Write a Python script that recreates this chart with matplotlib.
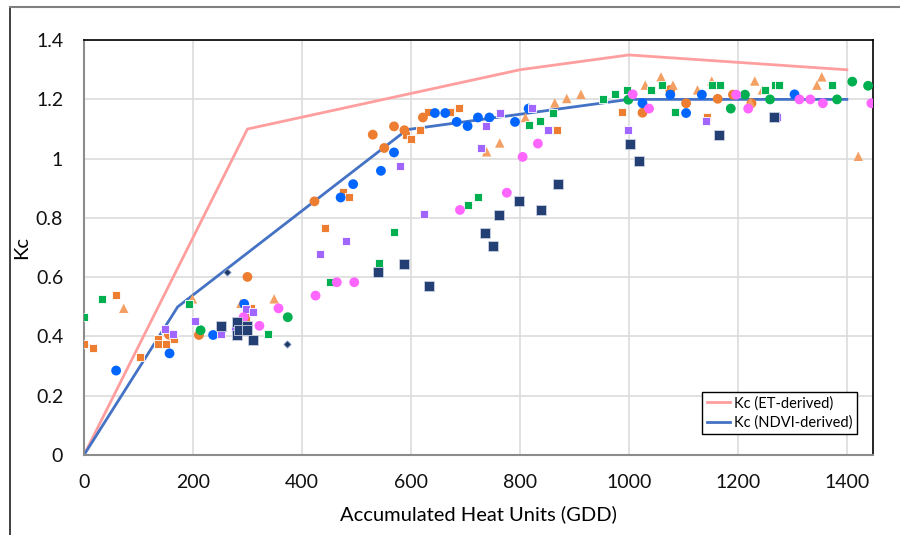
import matplotlib.pyplot as plt
from matplotlib.lines import Line2D

plt.rcParams['font.family'] = ['Lato', 'DejaVu Sans']

# === Reference curves ===
et_x = [0, 300, 800, 1000, 1400]
et_kc = [0, 1.10, 1.30, 1.35, 1.30]
ndvi_x = [0, 172, 593, 1000, 1400]
ndvi_kc = [0, 0.50, 1.098, 1.20, 1.20]

# === Field observations (GDD, Kc) ===
orange_circles = [(156, 0.406), (211, 0.405), (300, 0.601), (423, 0.856), (530, 1.081),
                  (551, 1.036), (569, 1.109), (588, 1.096), (622, 1.139), (1025, 1.155),
                  (1076, 1.232), (1105, 1.187), (1163, 1.202), (1191, 1.216), (1225, 1.187)]
orange_squares = [(0, 0.374), (17, 0.36), (58, 0.54), (103, 0.331), (135, 0.39), (135, 0.375),
                  (150, 0.375), (165, 0.39), (297, 0.467), (306, 0.495), (442, 0.766),
                  (476, 0.887), (487, 0.872), (591, 1.081), (601, 1.066), (617, 1.096),
                  (632, 1.157), (671, 1.157), (689, 1.171), (869, 1.097), (988, 1.157),
                  (1144, 1.141)]
orange_triangles = [(73, 0.495), (199, 0.527), (288, 0.512), (349, 0.527), (739, 1.023),
                    (763, 1.053), (810, 1.139), (864, 1.188), (886, 1.203), (912, 1.217),
                    (1030, 1.248), (1059, 1.276), (1081, 1.248), (1126, 1.232), (1152, 1.262),
                    (1223, 1.19), (1231, 1.262), (1245, 1.232), (1345, 1.248), (1354, 1.276),
                    (1421, 1.008)]
blue_circles = [(59, 0.285), (157, 0.343), (237, 0.405), (294, 0.51), (471, 0.869), (494, 0.914),
                (545, 0.959), (569, 1.021), (644, 1.154), (663, 1.154), (684, 1.124),
                (704, 1.110), (723, 1.139), (744, 1.139), (791, 1.124), (816, 1.169),
                (1025, 1.187), (1076, 1.216), (1105, 1.154), (1134, 1.216), (1304, 1.217)]
green_squares = [(0, 0.467), (34, 0.527), (193, 0.51), (338, 0.408), (452, 0.584), (541, 0.648),
                 (569, 0.751), (704, 0.842), (724, 0.872), (817, 1.113), (837, 1.126),
                 (860, 1.155), (952, 1.203), (974, 1.217), (996, 1.233), (1040, 1.232),
                 (1060, 1.248), (1084, 1.157), (1152, 1.248), (1167, 1.248), (1249, 1.232),
                 (1269, 1.248), (1276, 1.248), (1372, 1.248)]
green_circles = [(214, 0.421), (374, 0.465), (999, 1.199), (1187, 1.169), (1213, 1.216),
                 (1259, 1.2), (1382, 1.2), (1410, 1.26), (1439, 1.246)]
purple_squares = [(148, 0.424), (164, 0.409), (203, 0.452), (251, 0.408), (278, 0.424),
                  (297, 0.494), (311, 0.482), (433, 0.677), (481, 0.722), (580, 0.975),
                  (624, 0.813), (728, 1.037), (738, 1.111), (764, 1.155), (823, 1.170),
                  (852, 1.097), (998, 1.097), (1142, 1.126), (1272, 1.14)]
magenta_circles = [(293, 0.465), (322, 0.436), (357, 0.495), (425, 0.538), (464, 0.583),
                   (496, 0.583), (690, 0.827), (776, 0.885), (805, 1.006), (833, 1.051),
                   (1007, 1.217), (1037, 1.169), (1197, 1.216), (1219, 1.169), (1313, 1.2),
                   (1333, 1.2), (1356, 1.187), (1445, 1.187)]
navy_squares = [(251, 0.436), (281, 0.45), (281, 0.405), (285, 0.422), (300, 0.436),
                (300, 0.421), (311, 0.389), (539, 0.617), (588, 0.645), (633, 0.570),
                (736, 0.749), (750, 0.705), (762, 0.811), (798, 0.856), (839, 0.827),
                (870, 0.915), (1002, 1.051), (1019, 0.992), (1165, 1.081), (1267, 1.139)]
navy_diamonds = [(263, 0.617), (373, 0.374)]

xticks = [0, 200, 400, 600, 800, 1000, 1200, 1400]
yticks = [0, 0.2, 0.4, 0.6, 0.8, 1.0, 1.2, 1.4]
ytick_labels = ['0', '0.2', '0.4', '0.6', '0.8', '1', '1.2', '1.4']

fig = plt.figure(figsize=(9, 5.35), dpi=100)
ax = fig.add_axes([0.0933, 0.1495, 0.8767, 0.7755])

# outer chart frame (cropped)
fig.add_artist(Line2D([10/900, 10/900], [0, 1 - 7/535], color='#202020', lw=1.2))
fig.add_artist(Line2D([10/900, 1], [1 - 7/535, 1 - 7/535], color='#808080', lw=1.5))

ax.plot(et_x, et_kc, color='#FF9E9E', lw=2, label='Kc (ET-derived)', zorder=2)
ax.plot(ndvi_x, ndvi_kc, color='#4472C4', lw=2, label='Kc (NDVI-derived)', zorder=2)

def scat(pts, color, marker, size, edge='none'):
    xs = [p[0] for p in pts]
    ys = [p[1] for p in pts]
    ax.scatter(xs, ys, c=color, marker=marker, s=size, edgecolors=edge,
               linewidths=0.6, zorder=3)

scat(orange_squares, '#ED7D31', 's', 38, 'white')
scat(orange_circles, '#ED7D31', 'o', 50)
scat(orange_triangles, '#F4A064', '^', 46)
scat(blue_circles, '#0066FF', 'o', 50)
scat(green_squares, '#00B050', 's', 38, 'white')
scat(green_circles, '#00B050', 'o', 50)
scat(purple_squares, '#A066FF', 's', 38, 'white')
scat(magenta_circles, '#FF66FF', 'o', 50)
scat(navy_squares, '#243F73', 's', 44, '#C8D0E0')
scat(navy_diamonds, '#1F3864', 'D', 14, '#8FA8D0')

ax.set_xlim(0, 1448)
ax.set_ylim(0, 1.4)
ax.set_xticks(xticks)
ax.set_yticks(yticks)
ax.set_yticklabels(ytick_labels)
ax.grid(True, color='#DCDCDC', lw=1.2)
ax.set_axisbelow(True)
ax.tick_params(length=0, labelsize=14, colors='#111111')
ax.tick_params(axis='y', pad=15)
ax.tick_params(axis='x', pad=14)

for side in ['top', 'right']:
    ax.spines[side].set_color('black')
    ax.spines[side].set_linewidth(1.2)
for side in ['left', 'bottom']:
    ax.spines[side].set_color('#8C8C8C')
    ax.spines[side].set_linewidth(1.5)

ax.set_xlabel('Accumulated Heat Units (GDD)', fontsize=14.5, labelpad=10)
ax.set_ylabel('Kc', fontsize=14.5, labelpad=4)

leg = ax.legend(loc='lower right', bbox_to_anchor=(0.98, 0.05), fontsize=10.5,
                frameon=True, fancybox=False, edgecolor='black', framealpha=1,
                handlelength=1.6, handletextpad=0.3, borderpad=0.3, labelspacing=0.35,
                borderaxespad=0)
leg.get_frame().set_linewidth(1.0)

plt.savefig('out.png', dpi=100)
